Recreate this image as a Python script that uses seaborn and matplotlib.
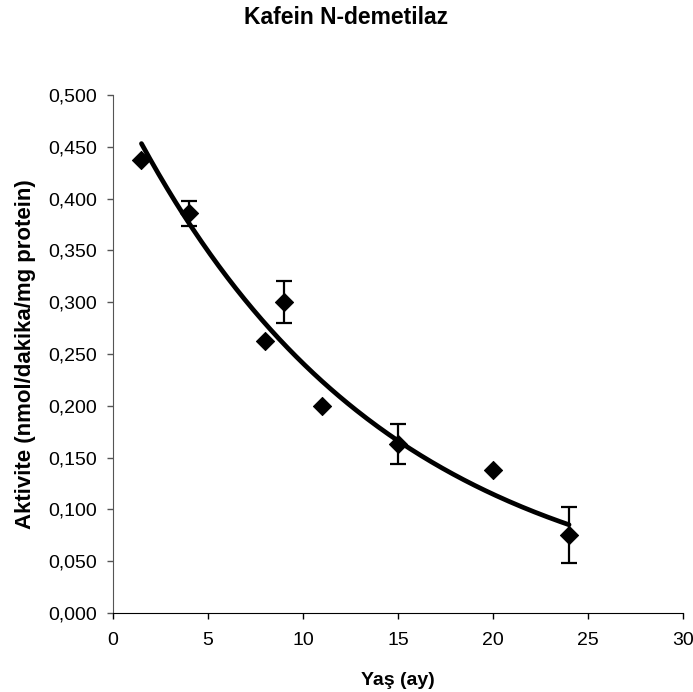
import numpy as np
import pandas as pd
import matplotlib
matplotlib.use("Agg")
import matplotlib.pyplot as plt
import seaborn as sns
from matplotlib.ticker import FuncFormatter, MultipleLocator

# veriler
yas = [1.5, 4, 8, 9, 11, 15, 20, 24]
aktivite = [0.437, 0.386, 0.263, 0.300, 0.200, 0.163, 0.138, 0.075]
hata = [0.0, 0.012, 0.0, 0.020, 0.0, 0.019, 0.0, 0.027]

df = pd.DataFrame({"yas": yas, "aktivite": aktivite, "hata": hata})

# üstel eğilim çizgisi (Excel tarzı: ln(y) üzerine doğrusal regresyon)
b, ln_a = np.polyfit(df["yas"], np.log(df["aktivite"]), 1)
x_fit = np.linspace(min(yas), max(yas), 200)
trend = pd.DataFrame({"yas": x_fit, "aktivite": np.exp(ln_a) * np.exp(b * x_fit)})

sns.set_style("white")
plt.rcParams["font.family"] = ["Liberation Sans", "DejaVu Sans"]
plt.rcParams["text.color"] = "black"
plt.rcParams["axes.labelcolor"] = "black"

fig = plt.figure(figsize=(6.93, 6.92), dpi=100)
ax = fig.add_axes([0.163, 0.1142, 0.8227, 0.7485])

sns.lineplot(data=trend, x="yas", y="aktivite", color="black", linewidth=3.4, ax=ax)

err = df[df["hata"] > 0]
ax.errorbar(err["yas"], err["aktivite"], yerr=err["hata"], fmt="none",
            ecolor="black", elinewidth=1.6, capsize=6, capthick=1.6)

sns.scatterplot(data=df, x="yas", y="aktivite", marker="D", s=85,
                color="black", edgecolor="black", ax=ax, zorder=5)

ax.set_xlim(0, 30)
ax.set_ylim(0, 0.5)
ax.xaxis.set_major_locator(MultipleLocator(5))
ax.yaxis.set_major_locator(MultipleLocator(0.05))
ax.yaxis.set_major_formatter(FuncFormatter(lambda v, p: f"{v:.3f}".replace(".", ",")))

for s in ["top", "right"]:
    ax.spines[s].set_visible(False)
ax.spines["left"].set_color("#555555")
ax.spines["bottom"].set_color("black")
ax.tick_params(axis="both", direction="out", length=4, width=1, labelsize=14,
               labelcolor="black", bottom=True, left=True)
ax.tick_params(axis="x", pad=10, color="black")
ax.tick_params(axis="y", pad=7.5, color="#555555")

ax.set_xlabel("Yaş (ay)", fontsize=14, fontweight="bold", labelpad=16)
ax.set_ylabel("Aktivite (nmol/dakika/mg protein)", fontsize=16, fontweight="bold", labelpad=9)
fig.text(0.5, 1 - 6 / 692, "Kafein N-demetilaz", fontsize=16.5, fontweight="bold",
         ha="center", va="top")

fig.savefig("out.png", dpi=100)
